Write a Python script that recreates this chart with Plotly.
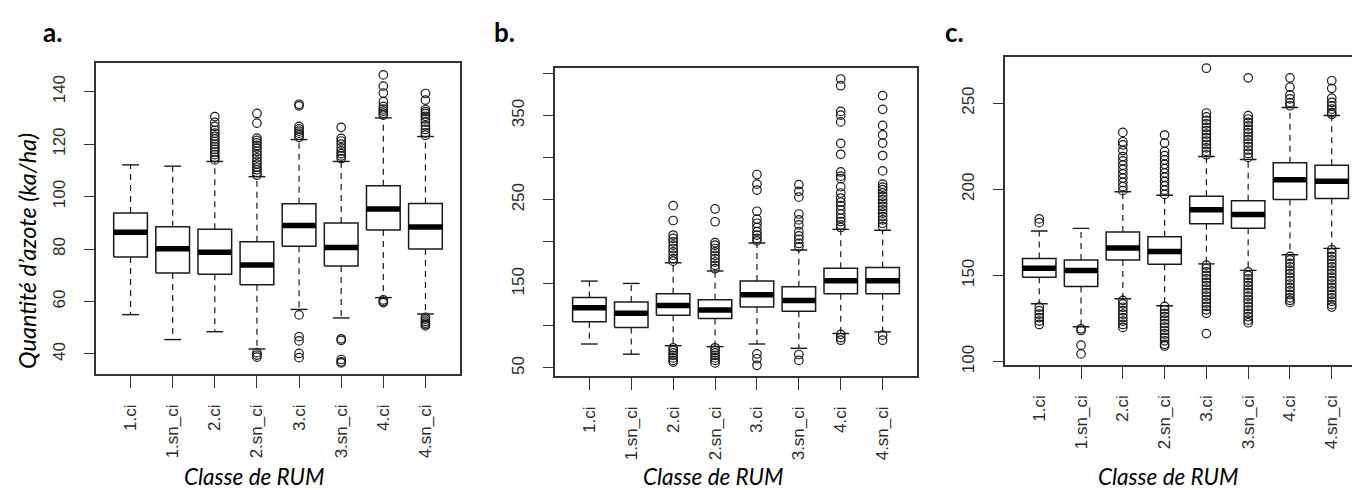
import plotly.graph_objects as go

categories = ["1.ci", "1.sn_ci", "2.ci", "2.sn_ci", "3.ci", "3.sn_ci", "4.ci", "4.sn_ci"]

# ---- Panel a ----
a_low = [55.0, 45.5, 48.5, 41.9, 57.0, 53.75, 61.5, 55.25]
a_q1 = [77.0, 70.9, 70.4, 66.4, 81.1, 73.5, 87.25, 80.0]
a_med = [86.4, 80.1, 78.75, 73.9, 89.0, 80.6, 95.25, 88.4]
a_q3 = [93.75, 88.5, 87.6, 82.75, 97.25, 89.9, 104.1, 97.4]
a_high = [112.1, 111.6, 113.4, 107.6, 121.75, 113.4, 130.0, 122.9]
a_out = [
    [],
    [],
    [130.5, 128.3, 126.8, 125.3, 124.2, 123, 122, 121, 120, 119, 118, 117, 116, 115, 114],
    [131.7, 128, 122.3, 121.4, 120.5, 119.5, 118.5, 117.2, 116, 114.8, 113.5, 112.4, 111.2, 110.2, 109.2, 108.2,
     40.5, 39.6, 38.8],
    [135.2, 134.6, 126.8, 125.8, 125, 124.2, 123.4, 122.6, 54.9, 46.6, 45, 40.2, 38.6],
    [126.4, 122.2, 121.2, 120, 118.6, 117.4, 116.4, 115.5, 114.5, 45.8, 45.2, 37.9, 37, 36.6],
    [146.4, 142.1, 139.5, 136.2, 134.4, 133.4, 132.6, 131.8, 131.1, 60.6, 60, 59.6],
    [139.3, 136.8, 133.2, 132.4, 131.6, 130.6, 129.6, 128.4, 127, 125.6, 124.3, 123.4,
     54, 53.3, 52.5, 51.8, 51.2, 50.7],
]
a_ticks = [40, 60, 80, 100, 120, 140]
a_ticktext = ["40", "60", "80", "100", "120", "140"]

# ---- Panel b ----
b_low = [78.5, 66.4, 76.5, 75.4, 78.5, 73.4, 91.0, 92.9]
b_q1 = [105.0, 98.0, 112.8, 108.9, 122.5, 117.4, 138.1, 138.1]
b_med = [121.7, 115.0, 124.4, 119.0, 136.9, 130.3, 153.7, 153.7]
b_q3 = [133.8, 128.3, 138.1, 131.0, 153.3, 146.7, 168.5, 169.3]
b_high = [153.3, 150.5, 175.0, 165.3, 198.5, 190.3, 214.8, 213.7]
b_out = [
    [],
    [],
    [242.9, 225.3, 208, 204, 200, 196, 192, 188, 184, 180, 177, 74, 71, 68, 65, 62, 59, 57],
    [239, 223.8, 199, 196, 192, 188, 184, 180, 176, 172, 168, 74, 71, 68, 65, 62, 59, 56],
    [280, 268.5, 261.5, 236.3, 227, 222, 217, 212, 208, 204, 201, 66.8, 61, 53.2],
    [268, 260, 253, 233, 226, 220, 212, 207, 203, 198, 194, 66, 59],
    [393.5, 385.5, 355, 350.5, 342.5, 317, 304, 283, 278, 275, 265.5, 258, 252, 247, 243, 238, 233,
     228, 224, 220, 217, 90, 86, 83],
    [373.8, 357.4, 338.3, 327, 317.3, 302.5, 284.2, 268.5, 265, 262, 258, 254, 250, 246, 242, 238,
     234, 230, 226, 222, 218, 89, 83],
]
b_ticks = [50, 100, 150, 200, 250, 300, 350, 400]
b_ticktext = ["50", "", "150", "", "250", "", "350", ""]

# ---- Panel c ----
c_low = [133.5, 120.2, 136.4, 132.4, 156.7, 152.9, 162.0, 165.7]
c_q1 = [148.9, 143.6, 159.0, 156.5, 180.0, 177.3, 194.0, 194.6]
c_med = [154.2, 152.9, 165.9, 163.8, 188.1, 185.3, 205.6, 204.7]
c_q3 = [159.8, 159.0, 175.2, 172.5, 196.0, 193.3, 215.4, 214.0]
c_high = [175.8, 177.3, 198.6, 196.5, 219.0, 217.3, 247.5, 242.8]
c_out = [
    [182.8, 180.6, 131.6, 129.5, 127.5, 125.5, 123.5, 121.5],
    [119, 118, 109.5, 104.4],
    [233, 227.6, 225.8, 222.5, 219, 216.5, 214, 211.5, 209, 206.5, 204, 201.5, 199.2,
     135.5, 133.5, 131.5, 129.5, 127.5, 125.5, 123.5, 121.5, 119.8],
    [231.5, 226.8, 222, 219.5, 217, 214.5, 212, 209.5, 207, 204.5, 202, 199.5, 197,
     132, 130, 128, 126, 124, 122, 120, 118, 116, 114, 112, 110, 109],
    [270.3, 244.3, 242, 240, 238, 236, 234, 232, 230, 228, 226, 224, 222, 220,
     156, 154, 152, 150, 148, 146, 144, 142, 140, 138, 136, 134, 132, 130, 128, 116.2],
    [264.7, 242.8, 240.8, 238.8, 236.8, 234.8, 232.8, 230.8, 228.8, 226.8, 224.8, 222.8, 220.8, 218.5,
     152, 150, 148, 146, 144, 142, 140, 138, 136, 134, 132, 130, 128, 126, 124, 122.5],
    [264.7, 259.3, 254.8, 252.5, 250.3, 248.5,
     161, 159, 157, 155, 153, 151, 149, 147, 145, 143, 141, 139, 137, 135.5, 134.3],
    [263, 258.6, 252.9, 250.5, 248.4, 246.5, 244.5, 243.5,
     165, 163, 161, 159, 157, 155, 153, 151, 149, 147, 145, 143, 141, 139, 137, 135, 133, 131.6],
]
c_ticks = [100, 150, 200, 250]
c_ticktext = ["100", "150", "200", "250"]

panels = [
    dict(low=a_low, q1=a_q1, med=a_med, q3=a_q3, high=a_high, out=a_out,
         ticks=a_ticks, ticktext=a_ticktext, yrange=[32.4, 150.9],
         xdom=[88 / 1360, 452 / 1360], ydom=[1 - 372 / 490, 1 - 56 / 490]),
    dict(low=b_low, q1=b_q1, med=b_med, q3=b_q3, high=b_high, out=b_out,
         ticks=b_ticks, ticktext=b_ticktext, yrange=[40.6, 406.9],
         xdom=[547 / 1360, 909 / 1360], ydom=[1 - 374 / 490, 1 - 60.7 / 490]),
    dict(low=c_low, q1=c_q1, med=c_med, q3=c_q3, high=c_high, out=c_out,
         ticks=c_ticks, ticktext=c_ticktext, yrange=[98.1, 276.7],
         xdom=[997 / 1360, 1358 / 1360], ydom=[1 - 362.7 / 490, 1 - 50 / 490]),
]

BOXW = 0.4   # half box width (R boxwex 0.8)
CAPW = 0.2   # half staple width
LINE = "#1a1a1a"
AXC = "#333333"

fig = go.Figure()

for k, p in enumerate(panels):
    sfx = "" if k == 0 else str(k + 1)
    xa, ya = "x" + sfx, "y" + sfx
    n = len(categories)
    pos = list(range(1, n + 1))

    # whiskers (dashed)
    wx, wy = [], []
    for i in range(n):
        wx += [pos[i], pos[i], None, pos[i], pos[i], None]
        wy += [p["q3"][i], p["high"][i], None, p["q1"][i], p["low"][i], None]
    fig.add_trace(go.Scatter(x=wx, y=wy, mode="lines", xaxis=xa, yaxis=ya,
                             line=dict(color=LINE, width=1.2, dash="6px,5px"),
                             hoverinfo="skip", showlegend=False))
    # caps
    cx, cy = [], []
    for i in range(n):
        cx += [pos[i] - CAPW, pos[i] + CAPW, None, pos[i] - CAPW, pos[i] + CAPW, None]
        cy += [p["high"][i], p["high"][i], None, p["low"][i], p["low"][i], None]
    fig.add_trace(go.Scatter(x=cx, y=cy, mode="lines", xaxis=xa, yaxis=ya,
                             line=dict(color=LINE, width=1.4),
                             hoverinfo="skip", showlegend=False))
    # boxes
    bx, by = [], []
    for i in range(n):
        l, r = pos[i] - BOXW, pos[i] + BOXW
        bx += [l, r, r, l, l, None]
        by += [p["q1"][i], p["q1"][i], p["q3"][i], p["q3"][i], p["q1"][i], None]
    fig.add_trace(go.Scatter(x=bx, y=by, mode="lines", xaxis=xa, yaxis=ya,
                             fill="toself", fillcolor="white",
                             line=dict(color=LINE, width=1.5),
                             hoverinfo="skip", showlegend=False))
    # medians
    mx, my = [], []
    for i in range(n):
        mx += [pos[i] - BOXW, pos[i] + BOXW, None]
        my += [p["med"][i], p["med"][i], None]
    fig.add_trace(go.Scatter(x=mx, y=my, mode="lines", xaxis=xa, yaxis=ya,
                             line=dict(color="black", width=5.5),
                             hoverinfo="skip", showlegend=False))
    # outliers
    ox, oy = [], []
    for i in range(n):
        ox += [pos[i]] * len(p["out"][i])
        oy += p["out"][i]
    fig.add_trace(go.Scatter(x=ox, y=oy, mode="markers", xaxis=xa, yaxis=ya,
                             marker=dict(symbol="circle-open", size=8.5, color=LINE,
                                         line=dict(width=1.2, color=LINE)),
                             hoverinfo="skip", showlegend=False))

    fig.update_layout(**{
        "xaxis" + sfx: dict(
            domain=p["xdom"], anchor=ya, range=[0.18, 8.82],
            tickmode="array", tickvals=pos, ticktext=categories, tickangle=-90,
            ticks="outside", ticklen=12, tickwidth=1.2, tickcolor=AXC,
            showline=True, mirror=True, linecolor=AXC, linewidth=1.5,
            showgrid=False, zeroline=False, ticklabelstandoff=10,
            tickfont=dict(family="Liberation Sans, Arial", size=17, color="#2a2a2a"),
        ),
        "yaxis" + sfx: dict(
            domain=p["ydom"], anchor=xa, range=p["yrange"],
            tickmode="array", tickvals=p["ticks"], ticktext=p["ticktext"], tickangle=-90,
            ticks="outside", ticklen=10, tickwidth=1.2, tickcolor=AXC,
            showline=True, mirror=True, linecolor=AXC, linewidth=1.5,
            showgrid=False, zeroline=False, ticklabelstandoff=12,
            tickfont=dict(family="Liberation Sans, Arial", size=17, color="#2a2a2a"),
        ),
    })

annotations = []
# panel letters
for lab, xp in zip(["a.", "b.", "c."], [33, 484, 935]):
    annotations.append(dict(text="<b>" + lab + "</b>", x=xp / 1360, y=1 - 24 / 490,
                            xref="paper", yref="paper", xanchor="left", yanchor="middle",
                            showarrow=False,
                            font=dict(family="Lato, Open Sans", size=26, color="black")))
# x titles
for xp in [246, 705, 1160]:
    annotations.append(dict(text="<i>Classe de RUM</i>", x=xp / 1360, y=1 - 476 / 490,
                            xref="paper", yref="paper", xanchor="center", yanchor="middle",
                            showarrow=False,
                            font=dict(family="Lato, Open Sans", size=22.5, color="black")))
# y title
annotations.append(dict(text="<i>Quantité d\u2019azote (ka/ha)</i>", x=19 / 1360, y=1 - 247 / 490,
                        xref="paper", yref="paper", xanchor="center", yanchor="middle",
                        textangle=-90, showarrow=False,
                        font=dict(family="Lato, Open Sans", size=23.5, color="black")))

fig.update_layout(
    width=1360, height=490,
    margin=dict(l=0, r=0, t=0, b=0),
    paper_bgcolor="white", plot_bgcolor="white",
    annotations=annotations,
    showlegend=False,
)

fig.write_html("out.html")
